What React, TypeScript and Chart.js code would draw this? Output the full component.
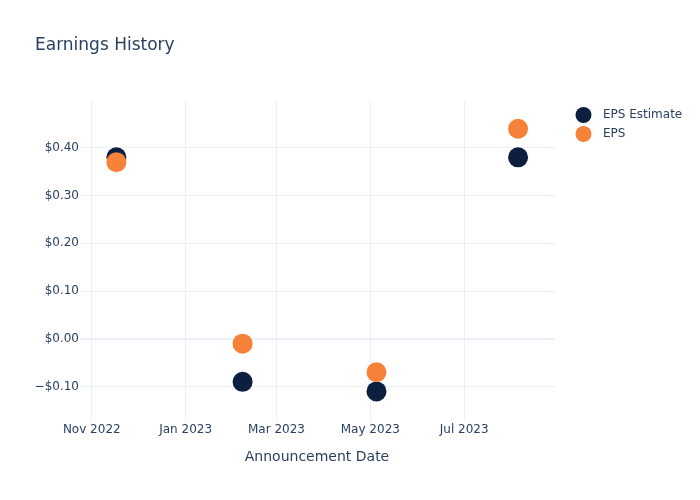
import React, { useEffect, useRef } from "react";
import { Chart, registerables } from "chart.js";

Chart.register(...registerables);

const announcementDates = ["2022-11-17", "2023-02-07", "2023-05-05", "2023-08-05"];
const epsEstimate = [0.38, -0.09, -0.11, 0.38];
const epsActual = [0.37, -0.01, -0.07, 0.44];
const xTickDates = ["2022-11-01", "2023-01-01", "2023-03-01", "2023-05-01", "2023-07-01"];
const xTickLabels = ["Nov 2022", "Jan 2023", "Mar 2023", "May 2023", "Jul 2023"];
const yTickValues = [-0.1, 0, 0.1, 0.2, 0.3, 0.4];
const seriesNames = ["EPS Estimate", "EPS"];

const NAVY = "#0d1f3f";
const ORANGE = "#f6823a";
const TEXT = "#2a3f5f";
const GRID = "#ebf0f8";
const FONT = "'DejaVu Sans', 'Open Sans', sans-serif";

const ts = (s: string) => Date.parse(s + "T00:00:00Z");

function fmtUsd(v: number) {
  const a = Math.abs(v).toFixed(2);
  if (Math.abs(v) < 1e-9) return "$0.00";
  return (v < 0 ? "\u2212" : "") + "$" + a;
}

export default function App() {
  const ref = useRef<HTMLCanvasElement | null>(null);
  useEffect(() => {
    document.body.style.margin = "0";
    const canvas = ref.current!;
    const overlay = {
      id: "overlay",
      afterDraw(chart: any) {
        const ctx = chart.ctx;
        ctx.save();
        ctx.fillStyle = TEXT;
        ctx.textBaseline = "middle";
        ctx.textAlign = "left";
        ctx.font = `17px ${FONT}`;
        ctx.fillText("Earnings History", 35, 46);
        ctx.font = `14px ${FONT}`;
        ctx.textAlign = "center";
        const ca = chart.chartArea;
        ctx.fillText("Announcement Date", (ca.left + ca.right) / 2 - 1, 457);
        ctx.textAlign = "left";
        ctx.font = `12px ${FONT}`;
        const cols = [NAVY, ORANGE];
        seriesNames.forEach((n, i) => {
          const y = 115 + i * 19;
          ctx.beginPath();
          ctx.arc(583.5, y, 8, 0, Math.PI * 2);
          ctx.fillStyle = cols[i];
          ctx.fill();
          ctx.fillStyle = TEXT;
          ctx.fillText(n, 603, y);
        });
        ctx.restore();
      },
    };
    const chart = new Chart(canvas, {
      type: "scatter",
      data: {
        datasets: [
          {
            label: seriesNames[0],
            data: announcementDates.map((d, i) => ({ x: ts(d), y: epsEstimate[i] })),
            backgroundColor: NAVY,
            borderColor: NAVY,
            pointRadius: 10,
            pointHoverRadius: 10,
            borderWidth: 0,
            order: 1,
          },
          {
            label: seriesNames[1],
            data: announcementDates.map((d, i) => ({ x: ts(d), y: epsActual[i] })),
            backgroundColor: ORANGE,
            borderColor: ORANGE,
            pointRadius: 10,
            pointHoverRadius: 10,
            borderWidth: 0,
            order: 0,
          },
        ],
      },
      options: {
        animation: false,
        responsive: false,
        layout: { padding: { left: 1, top: 101, right: 145, bottom: 0 } },
        plugins: { legend: { display: false }, tooltip: { enabled: false }, title: { display: false } },
        scales: {
          x: {
            type: "linear",
            min: ts("2022-10-25"),
            max: ts("2023-08-29"),
            afterBuildTicks: (s: any) => {
              s.ticks = xTickDates.map((d) => ({ value: ts(d) }));
            },
            afterFit: (s: any) => {
              s.height = 79;
            },
            ticks: {
              autoSkip: false,
              maxRotation: 0,
              padding: 2,
              color: TEXT,
              font: { family: FONT, size: 12 },
              callback: (v: any) => {
                const i = xTickDates.findIndex((d) => ts(d) === v);
                return i >= 0 ? xTickLabels[i] : "";
              },
            },
            grid: { color: GRID, lineWidth: 1, drawTicks: false },
            border: { display: false },
          },
          y: {
            type: "linear",
            min: -0.172,
            max: 0.498,
            afterBuildTicks: (s: any) => {
              s.ticks = yTickValues.map((v) => ({ value: v }));
            },
            afterFit: (s: any) => {
              s.width = 80;
            },
            ticks: {
              padding: 2,
              color: TEXT,
              font: { family: FONT, size: 12 },
              callback: (v: any) => fmtUsd(Number(v)),
            },
            grid: {
              color: GRID,
              lineWidth: (c: any) => (c.tick && Math.abs(c.tick.value) < 1e-9 ? 2 : 1),
              drawTicks: false,
            },
            border: { display: false },
          },
        },
      },
      plugins: [overlay],
    } as any);
    return () => chart.destroy();
  }, []);
  return <canvas ref={ref} width={700} height={500} style={{ display: "block", width: 700, height: 500 }} />;
}
